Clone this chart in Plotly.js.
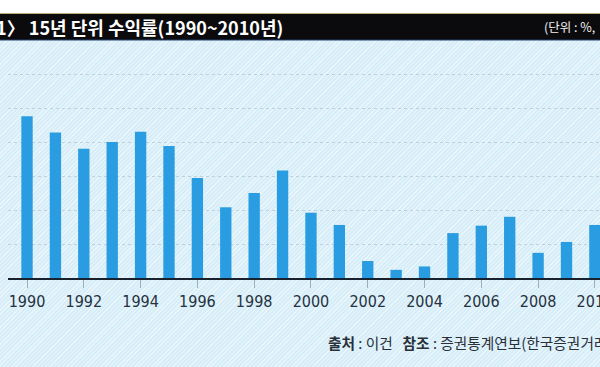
<!DOCTYPE html>
<html>
<head>
<meta charset="utf-8">
<script src="https://cdn.plot.ly/plotly-3.0.1.min.js"></script>
<style>
  html, body { margin: 0; padding: 0; }
  body {
    width: 600px; height: 367px; overflow: hidden;
    background-color: #d7eef9;
    background-image: repeating-linear-gradient(135deg, rgba(255,255,255,0.45) 0px, rgba(255,255,255,0.45) 1px, rgba(255,255,255,0) 1px, rgba(255,255,255,0) 3px);
  }
  #chart { width: 600px; height: 367px; }
</style>
</head>
<body>
<div id="chart"></div>
<script>
// Data (15-year annualised return, %)
const years = [1990, 1991, 1992, 1993, 1994, 1995, 1996, 1997, 1998, 1999, 2000,
               2001, 2002, 2003, 2004, 2005, 2006, 2007, 2008, 2009, 2010];
const returns = [23.8, 21.4, 19.0, 20.0, 21.5, 19.4, 14.7, 10.4, 12.5, 15.8, 9.6,
                 7.8, 2.5, 1.2, 1.7, 6.6, 7.7, 9.0, 3.7, 5.3, 7.8];
const tickYears = [1990, 1992, 1994, 1996, 1998, 2000, 2002, 2004, 2006, 2008, 2010];
const tickLabels = ['1990', '1992', '1994', '1996', '1998', '2000', '2002', '2004', '2006', '2008', '2010'];

const titleText = '〈그림1〉 15년 단위 수익률(1990~2010년)';
const unitText = '(단위 : %,';
const sourceText = '<b>출처</b> : 이건   <b>참조</b> : 증권통계연보(한국증권거래소)';

// pixel helpers for decoration placement (plot area: x 8..600, y 40..278)
const L = 8, R = 600, T = 40, B = 278;
const px = x => (x - L) / (R - L);
const py = y => (B - y) / (B - T);

const trace = {
  type: 'bar',
  x: years,
  y: returns,
  marker: { color: '#2a9de2', line: { width: 0 } },
  hoverinfo: 'x+y'
};

const layout = {
  width: 600, height: 367,
  margin: { l: L, r: 600 - R, t: T, b: 367 - B },
  paper_bgcolor: 'rgba(0,0,0,0)',
  plot_bgcolor: 'rgba(0,0,0,0)',
  bargap: 0.6,
  showlegend: false,
  xaxis: {
    range: [1989.33, 2010.18],
    tickmode: 'array',
    tickvals: tickYears,
    ticktext: tickLabels,
    ticks: 'outside',
    ticklen: 8,
    tickwidth: 1,
    tickcolor: '#9cb0bc',
    ticklabeloverflow: 'allow',
    showline: true,
    linecolor: '#18222e',
    linewidth: 2,
    showgrid: false,
    zeroline: false,
    tickfont: { family: '"Liberation Sans Narrow", "DejaVu Sans Condensed", sans-serif', size: 16, color: '#26323f' }
  },
  yaxis: {
    range: [0, 35],
    dtick: 5,
    showticklabels: false,
    ticks: '',
    showgrid: true,
    gridcolor: 'rgba(185,200,210,0.8)',
    griddash: 'dot',
    gridwidth: 1,
    zeroline: false,
    showline: false
  },
  shapes: [
    { type: 'rect', xref: 'paper', yref: 'paper', x0: px(-5), x1: px(605), y0: py(13), y1: py(-5), fillcolor: '#ffffff', line: { width: 0 }, layer: 'above' },
    { type: 'rect', xref: 'paper', yref: 'paper', x0: px(-5), x1: px(605), y0: py(40), y1: py(14), fillcolor: '#0b0b0d', line: { width: 0 }, layer: 'above' },
    { type: 'line', xref: 'paper', yref: 'paper', x0: px(-5), x1: px(605), y0: py(13.5), y1: py(13.5), line: { color: '#bfae72', width: 1.2 }, layer: 'above' },
    { type: 'line', xref: 'paper', yref: 'paper', x0: px(-5), x1: px(605), y0: py(40), y1: py(40), line: { color: '#27426e', width: 1 }, layer: 'above' }
  ],
  annotations: [
    { xref: 'paper', yref: 'paper', x: px(285), y: py(27), xanchor: 'right', yanchor: 'middle', showarrow: false,
      text: '<b>' + titleText + '</b>',
      font: { family: '"Noto Sans CJK KR", sans-serif', size: 18, color: '#ffffff' } },
    { xref: 'paper', yref: 'paper', x: px(542), y: py(27), xanchor: 'left', yanchor: 'middle', showarrow: false,
      text: unitText,
      font: { family: '"Noto Sans CJK KR", sans-serif', size: 12.5, color: '#f0f0f0' } },
    { xref: 'paper', yref: 'paper', x: px(326), y: py(342), xanchor: 'left', yanchor: 'middle', showarrow: false,
      text: sourceText,
      font: { family: '"Noto Sans CJK KR", sans-serif', size: 14.7, color: '#2a3038' } }
  ]
};

Plotly.newPlot('chart', [trace], layout, { displayModeBar: false, staticPlot: true });
</script>
</body>
</html>
